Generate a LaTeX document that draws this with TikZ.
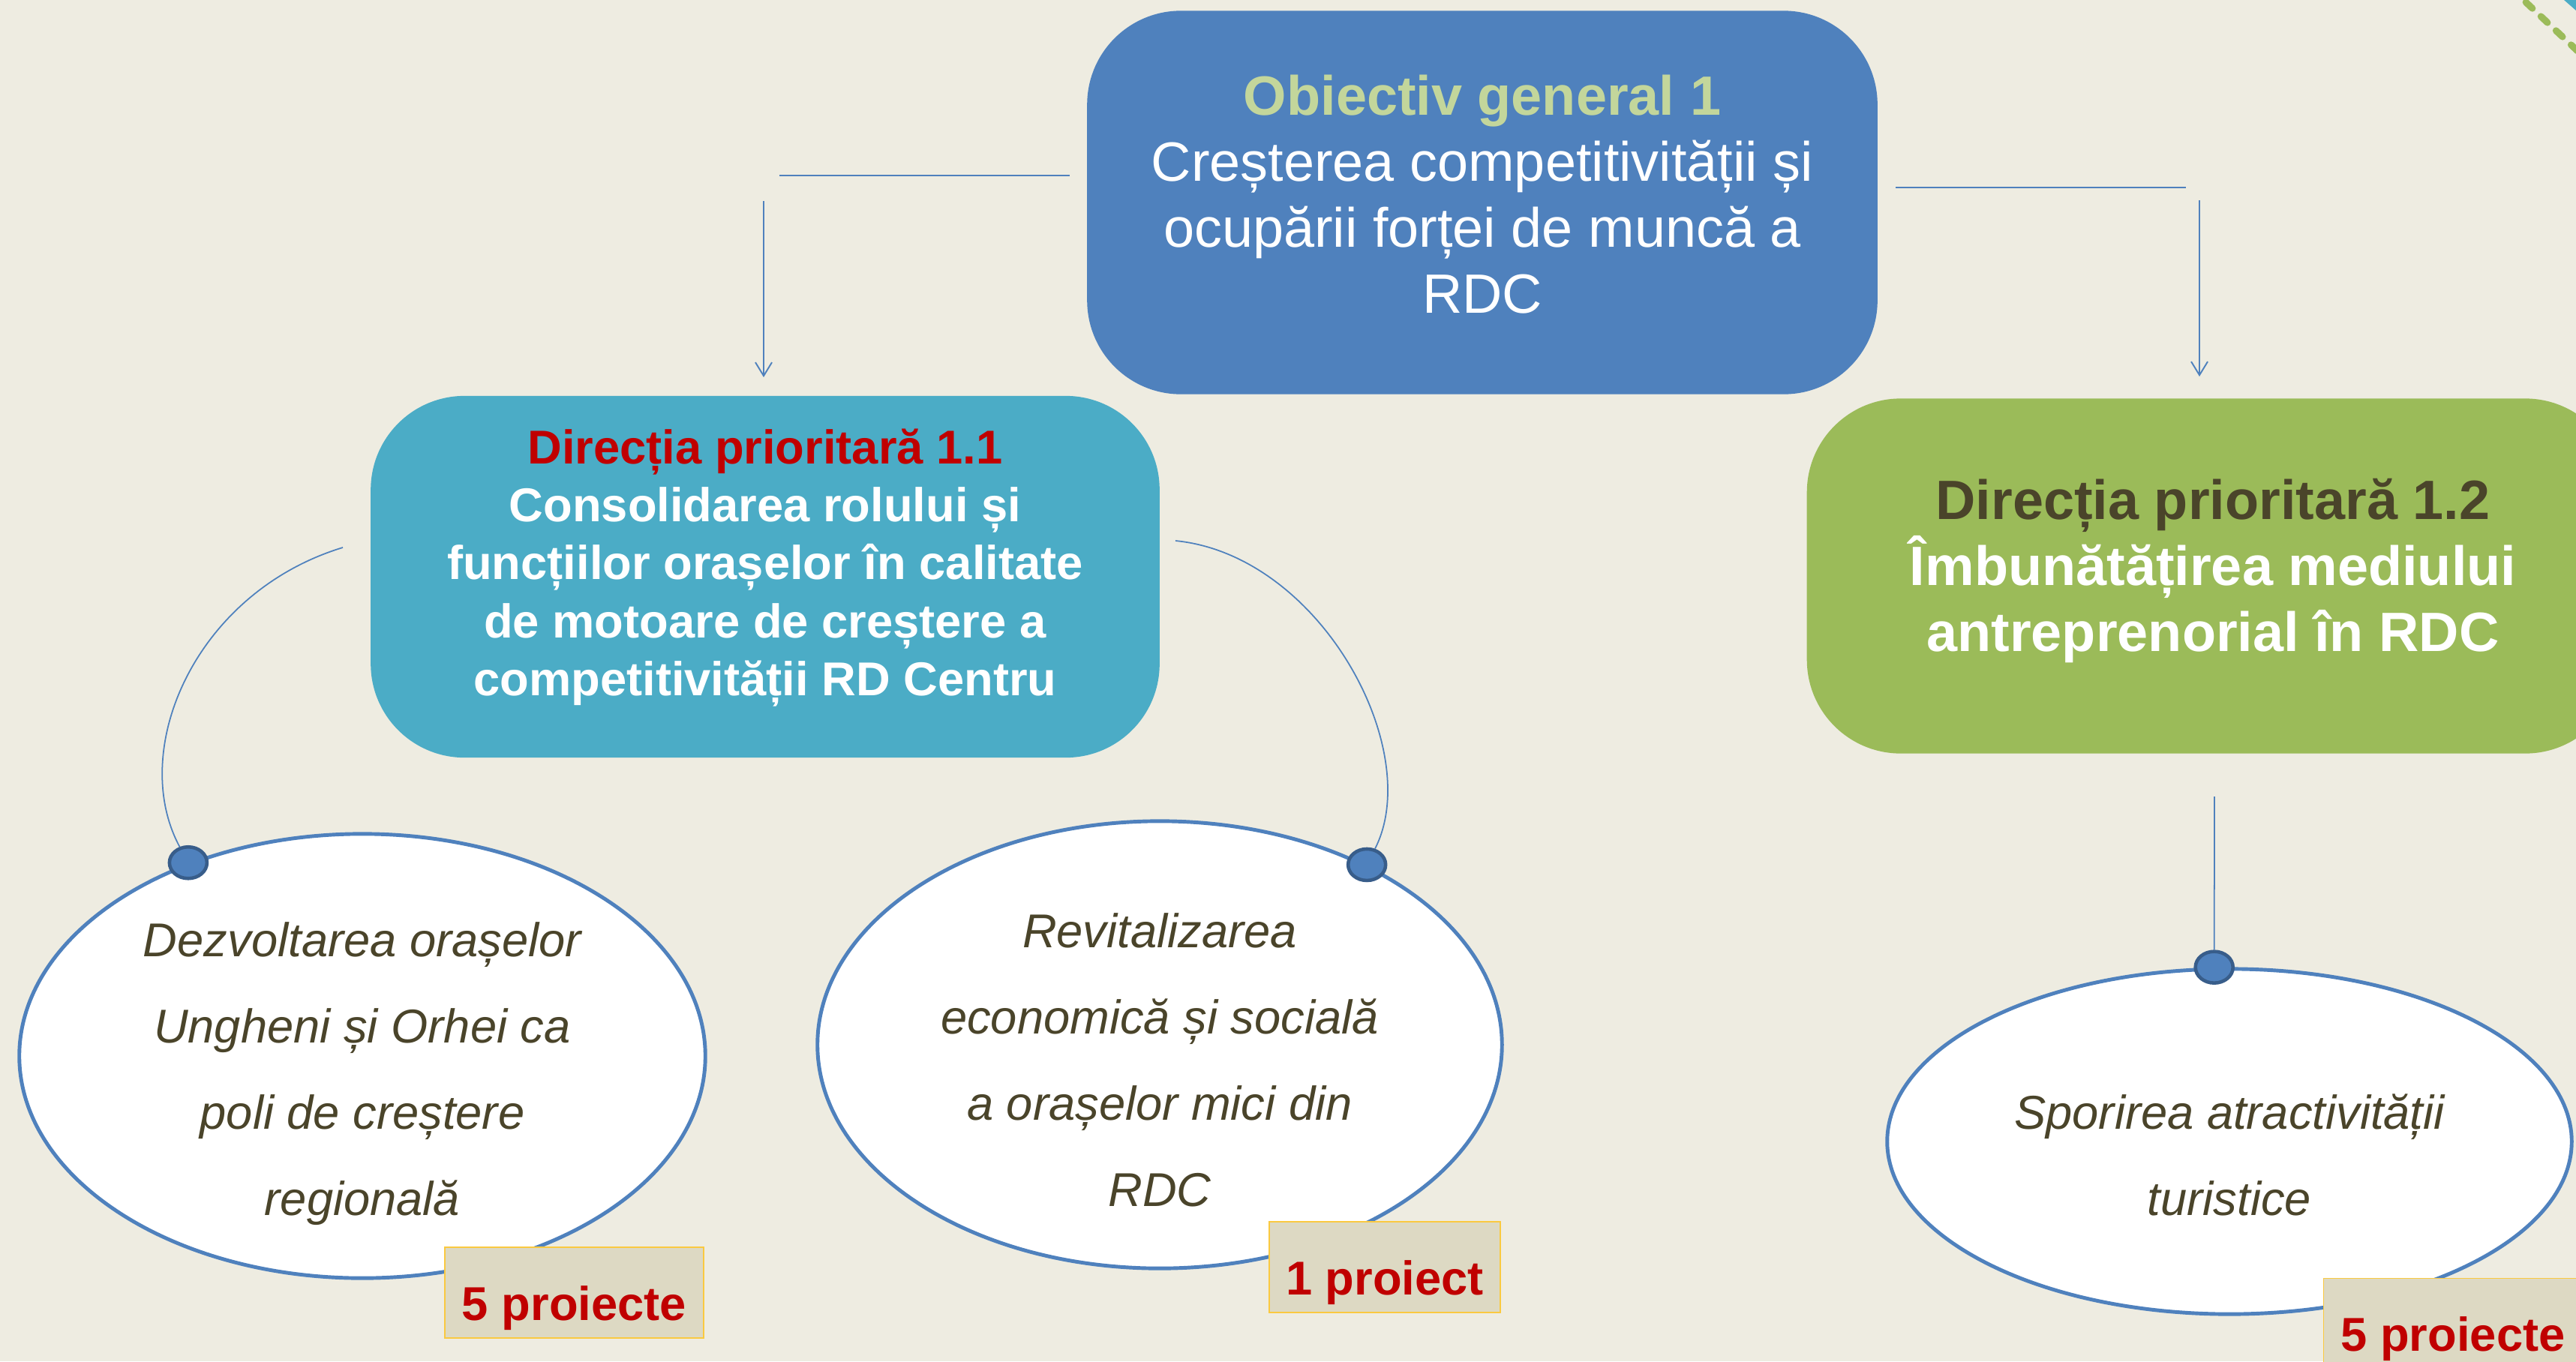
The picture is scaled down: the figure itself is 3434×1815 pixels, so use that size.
\documentclass[tikz,border=0pt]{standalone}
\usepackage{fontspec}
\setmainfont{Liberation Sans}
\usetikzlibrary{shapes.geometric,arrows.meta}

\definecolor{bgcream}{HTML}{EEECE1}
\definecolor{ofblue}{HTML}{4F81BD}
\definecolor{ofteal}{HTML}{4BACC6}
\definecolor{ofgreen}{HTML}{9BBB59}
\definecolor{lightgreen}{HTML}{C3D69B}
\definecolor{darkred}{HTML}{C00000}
\definecolor{olivetext}{HTML}{4A442A}
\definecolor{badgefill}{HTML}{DDD9C3}
\definecolor{badgeline}{HTML}{FAC940}
\definecolor{knobline}{HTML}{385D8A}

% invisible strut to nudge text up inside its box
\newcommand{\deepgap}[1]{\rule[-#1]{0pt}{0pt}}

\tikzset{
  dirbox/.style={rounded corners=1.25cm, inner sep=0pt, align=center, text=white},
  aim/.style={ellipse, draw=ofblue, line width=1.4pt, fill=white, inner sep=0pt},
  aimtext/.style={inner sep=0pt, align=center, text=olivetext,
    font=\fontsize{18}{32.7}\selectfont\itshape},
  knob/.style={ellipse, draw=knobline, fill=ofblue, line width=1.3pt, inner sep=0pt,
    minimum width=0.5cm, minimum height=0.42cm},
  badge/.style={draw=badgeline, fill=badgefill, line width=0.4pt, inner sep=0pt,
    minimum height=1.21cm, text height=0.73cm, text depth=0pt,
    text=darkred, font=\fontsize{18}{22}\selectfont\bfseries},
  link/.style={draw=ofblue, line width=0.55pt},
  thread/.style={draw=ofblue, line width=0.5pt},
}

\begin{document}
\begin{tikzpicture}[x=0.01cm, y=-0.01cm]

  \useasboundingbox (0,0) rectangle (3434,1815);
  \fill[bgcream] (0,0) rectangle (3434,1815);

  \node (obj) [dirbox, fill=ofblue, minimum width=10.53cm, minimum height=5.11cm,
    font=\fontsize{21}{25}\selectfont] at (1976,270)
    {{\bfseries\color{lightgreen}Obiectiv general 1}\\Creșterea competitivității și\\ocupării forței de muncă a\\RDC\deepgap{0.22cm}};
  \node (d11) [dirbox, fill=ofteal, minimum width=10.51cm, minimum height=4.82cm,
    font=\fontsize{18}{22}\selectfont\bfseries] at (1020,769)
    {{\color{darkred}Direcția prioritară 1.1}\\Consolidarea rolului și\\funcțiilor orașelor în calitate\\de motoare de creștere a\\competitivității RD Centru\deepgap{0.39cm}};
  \node (d12) [dirbox, fill=ofgreen, minimum width=10.82cm, minimum height=4.73cm,
    font=\fontsize{21}{25}\selectfont\bfseries] at (2950,768)
    {{\color{olivetext}Direcția prioritară 1.2}\\Îmbunătățirea mediului\\antreprenorial în RDC\deepgap{0.3cm}};

  \node (el1) [aim, minimum width=9.14cm, minimum height=5.92cm] at (483,1408) {};
  \node (el2) [aim, minimum width=9.12cm, minimum height=5.96cm] at (1546,1393) {};
  \node (el3) [aim, minimum width=9.12cm, minimum height=4.6cm] at (2972,1522) {};
  \node (t1) [aimtext, yshift=-0.24cm] at (el1.center)
    {Dezvoltarea orașelor\\Ungheni și Orhei ca\\poli de creștere\\regională};
  \node (t2) [aimtext, yshift=-0.2cm] at (el2.center)
    {Revitalizarea\\economică și socială\\a orașelor mici din\\RDC};
  \node (t3) [aimtext, yshift=-0.18cm] at (el3.center)
    {Sporirea atractivității\\turistice};

  \node (k1) [knob] at (el1.132) {};
  \node (k2) [knob] at (el2.41) {};
  \node (k3) [knob] at (el3.95) {};

  \node (b1) [badge, minimum width=3.45cm] at (765.5,1723.5) {5 proiecte};
  \node (b2) [badge, minimum width=3.08cm] at (1846,1689.5) {1 proiect};
  \node (b3) [badge, minimum width=3.45cm] at (3270,1765) {5 proiecte};

  \coordinate (hl1) at (1039,234);
  \coordinate (hl2) at (1426,234);
  \coordinate (al1) at (1018,268);
  \coordinate (al2) at (1018,503);
  \coordinate (hr1) at (2527,250);
  \coordinate (hr2) at (2914,250);
  \coordinate (ar1) at (2932,267);
  \coordinate (ar2) at (2932,502);
  \draw[link] (hl1) -- (hl2);
  \draw[link, -{Straight Barb[length=0.18cm, width=0.22cm]}] (al1) -- (al2);
  \draw[link] (hr1) -- (hr2);
  \draw[link, -{Straight Barb[length=0.18cm, width=0.22cm]}] (ar1) -- (ar2);

  \coordinate (c11w) at (457,730);
  \coordinate (c11e) at (1567,721);
  \coordinate (c12s) at (2952,1062);
  \draw[thread] (c11w) .. controls (260,790) and (170,1000) .. (k1);
  \draw[thread] (c11e) .. controls (1760,740) and (1900,1000) .. (k2);
  \draw[thread] (c12s) -- (k3);

  \draw[ofgreen, line width=0.09cm, line cap=round, dash pattern=on 0.12cm off 0.156cm]
    (3347,-16) -- (3470,100);
  \fill[ofteal] (3418,0) -- (3434,0) -- (3434,14) -- cycle;

\end{tikzpicture}
\end{document}
